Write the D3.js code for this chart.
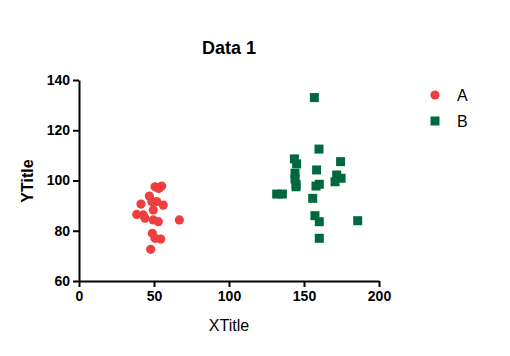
<!DOCTYPE html>
<html><head><meta charset="utf-8">
<script src="https://cdn.jsdelivr.net/npm/d3@7"></script>
<style>body{margin:0;background:#fff}svg{font-family:"Liberation Sans",Arial,sans-serif}</style>
</head><body>
<svg id="c" width="510" height="356"></svg>
<script>
const seriesNames = ["A", "B"];
const aX = [50.7,55.1,52.9,46.9,41.3,48.5,51.8,56.2,49.5,38.5,42.9,49.5,52.9,66.9,48.9,50.7,54.5,47.8,44.0,53.5];
const aY = [97.5,97.8,96.9,93.8,90.6,91.6,91.6,90.2,88.3,86.5,86.3,84.3,83.6,84.3,79.0,77.0,76.7,72.6,85.0,97.0];
const bX = [156.9,160.0,143.6,145.1,174.4,158.4,144.0,171.8,174.7,144.0,144.7,170.7,160.2,158.0,144.7,131.8,135.6,155.8,157.3,160.2,185.8,160.2];
const bY = [133.0,112.5,108.6,106.6,107.5,104.2,102.9,102.2,100.9,100.6,98.5,99.5,98.5,97.8,97.5,94.6,94.6,92.9,86.0,83.6,84.0,77.0];
const xTicks = [0,50,100,150,200];
const yTicks = [60,80,100,120,140];
const colors = ["#F03E3E", "#00683F"];

const svg = d3.select("#c");
const x = d3.scaleLinear().domain([0,200]).range([79,379]);
const y = d3.scaleLinear().domain([60,140]).range([281,80]);

const xa = svg.append("g").attr("transform","translate(0,281)")
  .call(d3.axisBottom(x).tickValues(xTicks).tickSize(6).tickPadding(4).tickSizeOuter(0));
const ya = svg.append("g").attr("transform","translate(79,0)")
  .call(d3.axisLeft(y).tickValues(yTicks).tickSize(6).tickPadding(3).tickSizeOuter(0));
[xa,ya].forEach(g=>{
  g.select(".domain").attr("stroke","#000").attr("stroke-width",2);
  g.selectAll(".tick line").attr("stroke","#000").attr("stroke-width",2);
  g.selectAll(".tick text").attr("fill","#000").attr("font-size",14).attr("font-weight","bold")
   .attr("font-family","'Liberation Sans',Arial,sans-serif");
});

const aData = aX.map((v,i)=>({x:v,y:aY[i]}));
const bData = bX.map((v,i)=>({x:v,y:bY[i]}));
svg.append("g").selectAll("circle").data(aData).join("circle")
  .attr("cx",d=>x(d.x)).attr("cy",d=>y(d.y)).attr("r",4.6).attr("fill",colors[0]);
svg.append("g").selectAll("rect").data(bData).join("rect")
  .attr("x",d=>x(d.x)-4.5).attr("y",d=>y(d.y)-4.5).attr("width",9).attr("height",9).attr("fill",colors[1]);

svg.append("text").attr("x",229).attr("y",54).attr("text-anchor","middle")
  .attr("font-size",18).attr("font-weight","bold").text("Data 1");
svg.append("text").attr("x",229).attr("y",331).attr("text-anchor","middle")
  .attr("font-size",16).text("XTitle");
svg.append("text").attr("transform","translate(33,181) rotate(-90)").attr("text-anchor","middle")
  .attr("font-size",16).attr("font-weight","bold").text("YTitle");

const lg = svg.append("g");
lg.append("circle").attr("cx",435).attr("cy",95).attr("r",4.6).attr("fill",colors[0]);
lg.append("rect").attr("x",430.5).attr("y",116.5).attr("width",9).attr("height",9).attr("fill",colors[1]);
seriesNames.forEach((n,i)=>{
  lg.append("text").attr("x",457).attr("y",101+i*26).attr("font-size",16).text(n);
});
</script>
</body></html>
